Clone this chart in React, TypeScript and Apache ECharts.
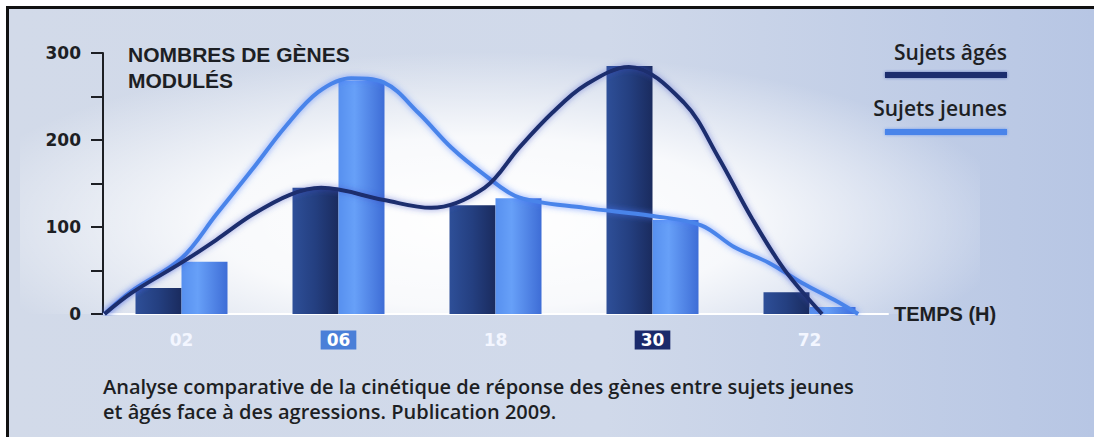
import React, { useEffect, useRef } from 'react';
import * as echarts from 'echarts';

// Sampling times (hours)
const categories = ['02', '06', '18', '30', '72'];
// Number of modulated genes per time point
const olderCounts = [30, 145, 125, 285, 25];
const youngerCounts = [60, 268, 133, 108, 8];
const yLabelValues = [0, 100, 200, 300];

// Trend curves: [position on the time scale (category index), genes]
const olderCurve: [number, number][] = [
  [-0.49, 0], [-0.32, 24], [0, 59], [0.22, 85], [0.45, 114], [0.69, 137], [0.89, 145],
  [1.29, 131], [1.59, 122], [1.93, 145], [2.15, 191], [2.36, 231], [2.57, 263],
  [2.85, 284], [3.2, 243], [3.42, 180], [3.63, 111], [3.84, 51], [4.08, 0],
];
const youngerCurve: [number, number][] = [
  [-0.49, 0], [-0.32, 26], [0, 64], [0.22, 114], [0.45, 166], [0.66, 215], [0.87, 255],
  [1.08, 271], [1.29, 266], [1.51, 231], [1.72, 191], [1.93, 160], [2.15, 134],
  [2.57, 122], [2.99, 113], [3.31, 102], [3.52, 77], [3.74, 59], [3.95, 36],
  [4.16, 16], [4.31, 0],
];

const seriesNames = ['Sujets âgés', 'Sujets jeunes'];
const yTitle = 'NOMBRES DE GÈNES\nMODULÉS';
const xTitle = 'TEMPS (H)';
const captionLines = [
  'Analyse comparative de la cinétique de réponse des gènes entre sujets jeunes',
  'et âgés face à des agressions. Publication 2009.',
];

const DARK = '#1c2e6e';
const LIGHT = '#4a84ea';
const INK = '#1d1f24';

export default function App() {
  const ref = useRef<HTMLDivElement>(null);

  useEffect(() => {
    if (!ref.current) return;
    const chart = echarts.init(ref.current, undefined, { renderer: 'svg' });

    const hGrad = (stops: [number, string][]) =>
      new echarts.graphic.LinearGradient(0, 0, 1, 0, stops.map(([offset, color]) => ({ offset, color })));

    chart.setOption({
      animation: false,
      backgroundColor: '#ffffff',
      grid: { left: 103, width: 785, top: 53, height: 261, containLabel: false },
      xAxis: [
        {
          type: 'category',
          data: categories,
          boundaryGap: true,
          name: xTitle,
          nameLocation: 'end',
          nameGap: 6,
          nameTextStyle: {
            color: INK,
            fontFamily: 'Liberation Sans',
            fontWeight: 'bold',
            fontSize: 20,
            verticalAlign: 'middle',
            align: 'left',
            padding: [10, 0, 0, 0],
          },
          axisLine: { lineStyle: { color: '#ffffff', width: 2 } },
          axisTick: { alignWithLabel: true, length: 10, lineStyle: { color: '#ffffff', width: 2 } },
          axisLabel: {
            margin: 17,
            formatter: (v: string) => (v === '06' ? `{hl|${v}}` : v === '30' ? `{dk|${v}}` : `{pl|${v}}`),
            rich: {
              pl: { color: '#f3f6ff', fontFamily: 'DejaVu Sans', fontWeight: 'bold', fontSize: 17, padding: [1, 6], lineHeight: 18 },
              hl: { color: '#ffffff', backgroundColor: '#4a7fd8', fontFamily: 'DejaVu Sans', fontWeight: 'bold', fontSize: 17, padding: [1, 6], lineHeight: 18 },
              dk: { color: '#ffffff', backgroundColor: '#1b2a6b', fontFamily: 'DejaVu Sans', fontWeight: 'bold', fontSize: 17, padding: [1, 6], lineHeight: 18 },
            },
          },
          splitLine: { show: false },
        },
        {
          type: 'value',
          min: -0.5,
          max: 4.5,
          show: false,
        },
      ],
      yAxis: {
        type: 'value',
        min: 0,
        max: 300,
        interval: 50,
        axisLine: { show: true, onZero: false, lineStyle: { color: INK, width: 2 } },
        axisTick: { show: true, length: 12, lineStyle: { color: INK, width: 2 } },
        axisLabel: {
          margin: 22,
          color: INK,
          fontFamily: 'DejaVu Sans',
          fontWeight: 'bold',
          fontSize: 17,
          formatter: (v: number) => (yLabelValues.includes(v) ? String(v) : ''),
        },
        splitLine: { show: false },
      },
      graphic: [
        // page frame and backdrop
        {
          type: 'rect',
          z: -20,
          shape: { x: 9, y: 9, width: 1085, height: 428 },
          style: {
            fill: new echarts.graphic.LinearGradient(0, 0, 1, 0, [
              { offset: 0, color: '#d2dae9' },
              { offset: 0.55, color: '#d0d9ea' },
              { offset: 1, color: '#b7c6e4' },
            ]),
          },
        },
        {
          type: 'rect',
          z: -19,
          shape: { x: 20, y: 9, width: 960, height: 305 },
          style: {
            fill: new echarts.graphic.RadialGradient(0.48, 0.7, 0.56, [
              { offset: 0, color: 'rgba(255,255,255,1)' },
              { offset: 0.5, color: 'rgba(255,255,255,0.85)' },
              { offset: 1, color: 'rgba(255,255,255,0)' },
            ]),
          },
        },
        { type: 'rect', z: 10, shape: { x: 6, y: 6, width: 1088, height: 3 }, style: { fill: '#111111' } },
        { type: 'rect', z: 10, shape: { x: 6, y: 6, width: 3, height: 431 }, style: { fill: '#111111' } },
        // y-axis title
        {
          type: 'text',
          z: 10,
          x: 128,
          y: 41,
          style: {
            text: yTitle,
            fill: INK,
            font: 'bold 21px "Liberation Sans"',
            lineHeight: 26,
          },
        },
        // legend
        {
          type: 'text',
          z: 10,
          x: 1007,
          y: 41,
          style: { text: seriesNames[0], fill: INK, font: '600 21px "Open Sans"', align: 'right' },
        },
        { type: 'rect', z: 10, shape: { x: 885, y: 72, width: 122, height: 6 }, style: { fill: DARK, shadowBlur: 3, shadowColor: 'rgba(40,60,160,0.6)' } },
        {
          type: 'text',
          z: 10,
          x: 1007,
          y: 97,
          style: { text: seriesNames[1], fill: INK, font: '600 21px "Open Sans"', align: 'right' },
        },
        { type: 'rect', z: 10, shape: { x: 885, y: 129, width: 122, height: 6 }, style: { fill: LIGHT, shadowBlur: 3, shadowColor: 'rgba(60,120,240,0.6)' } },
        // caption, one text per line
        ...captionLines.map((line, i) => ({
          type: 'text',
          z: 10,
          x: 103,
          y: 386 + i * 25,
          style: { text: line, fill: INK, font: '600 20px "Open Sans"', verticalAlign: 'middle' },
        })),
      ],
      series: [
        {
          name: seriesNames[0],
          type: 'bar',
          xAxisIndex: 0,
          data: olderCounts,
          barWidth: 46,
          barGap: '0%',
          itemStyle: {
            color: hGrad([
              [0, '#2e4f98'],
              [0.5, '#243f80'],
              [1, '#1a2b5e'],
            ]),
          },
        },
        {
          name: seriesNames[1],
          type: 'bar',
          xAxisIndex: 0,
          data: youngerCounts,
          barWidth: 46,
          itemStyle: {
            color: hGrad([
              [0, '#5790ef'],
              [0.35, '#67a0f8'],
              [1, '#3e6dd6'],
            ]),
          },
        },
        {
          name: seriesNames[1],
          type: 'line',
          xAxisIndex: 1,
          data: youngerCurve,
          smooth: 0.35,
          symbol: 'none',
          z: 4,
          lineStyle: { color: LIGHT, width: 4, shadowBlur: 6, shadowColor: 'rgba(70,120,255,0.7)' },
        },
        {
          name: seriesNames[0],
          type: 'line',
          xAxisIndex: 1,
          data: olderCurve,
          smooth: 0.35,
          symbol: 'none',
          z: 5,
          lineStyle: { color: DARK, width: 4, shadowBlur: 6, shadowColor: 'rgba(60,80,200,0.6)' },
        },
      ],
    });

    return () => chart.dispose();
  }, []);

  return (
    <div
      ref={ref}
      style={{ position: 'absolute', left: 0, top: 0, width: 1094, height: 437 }}
    />
  );
}
